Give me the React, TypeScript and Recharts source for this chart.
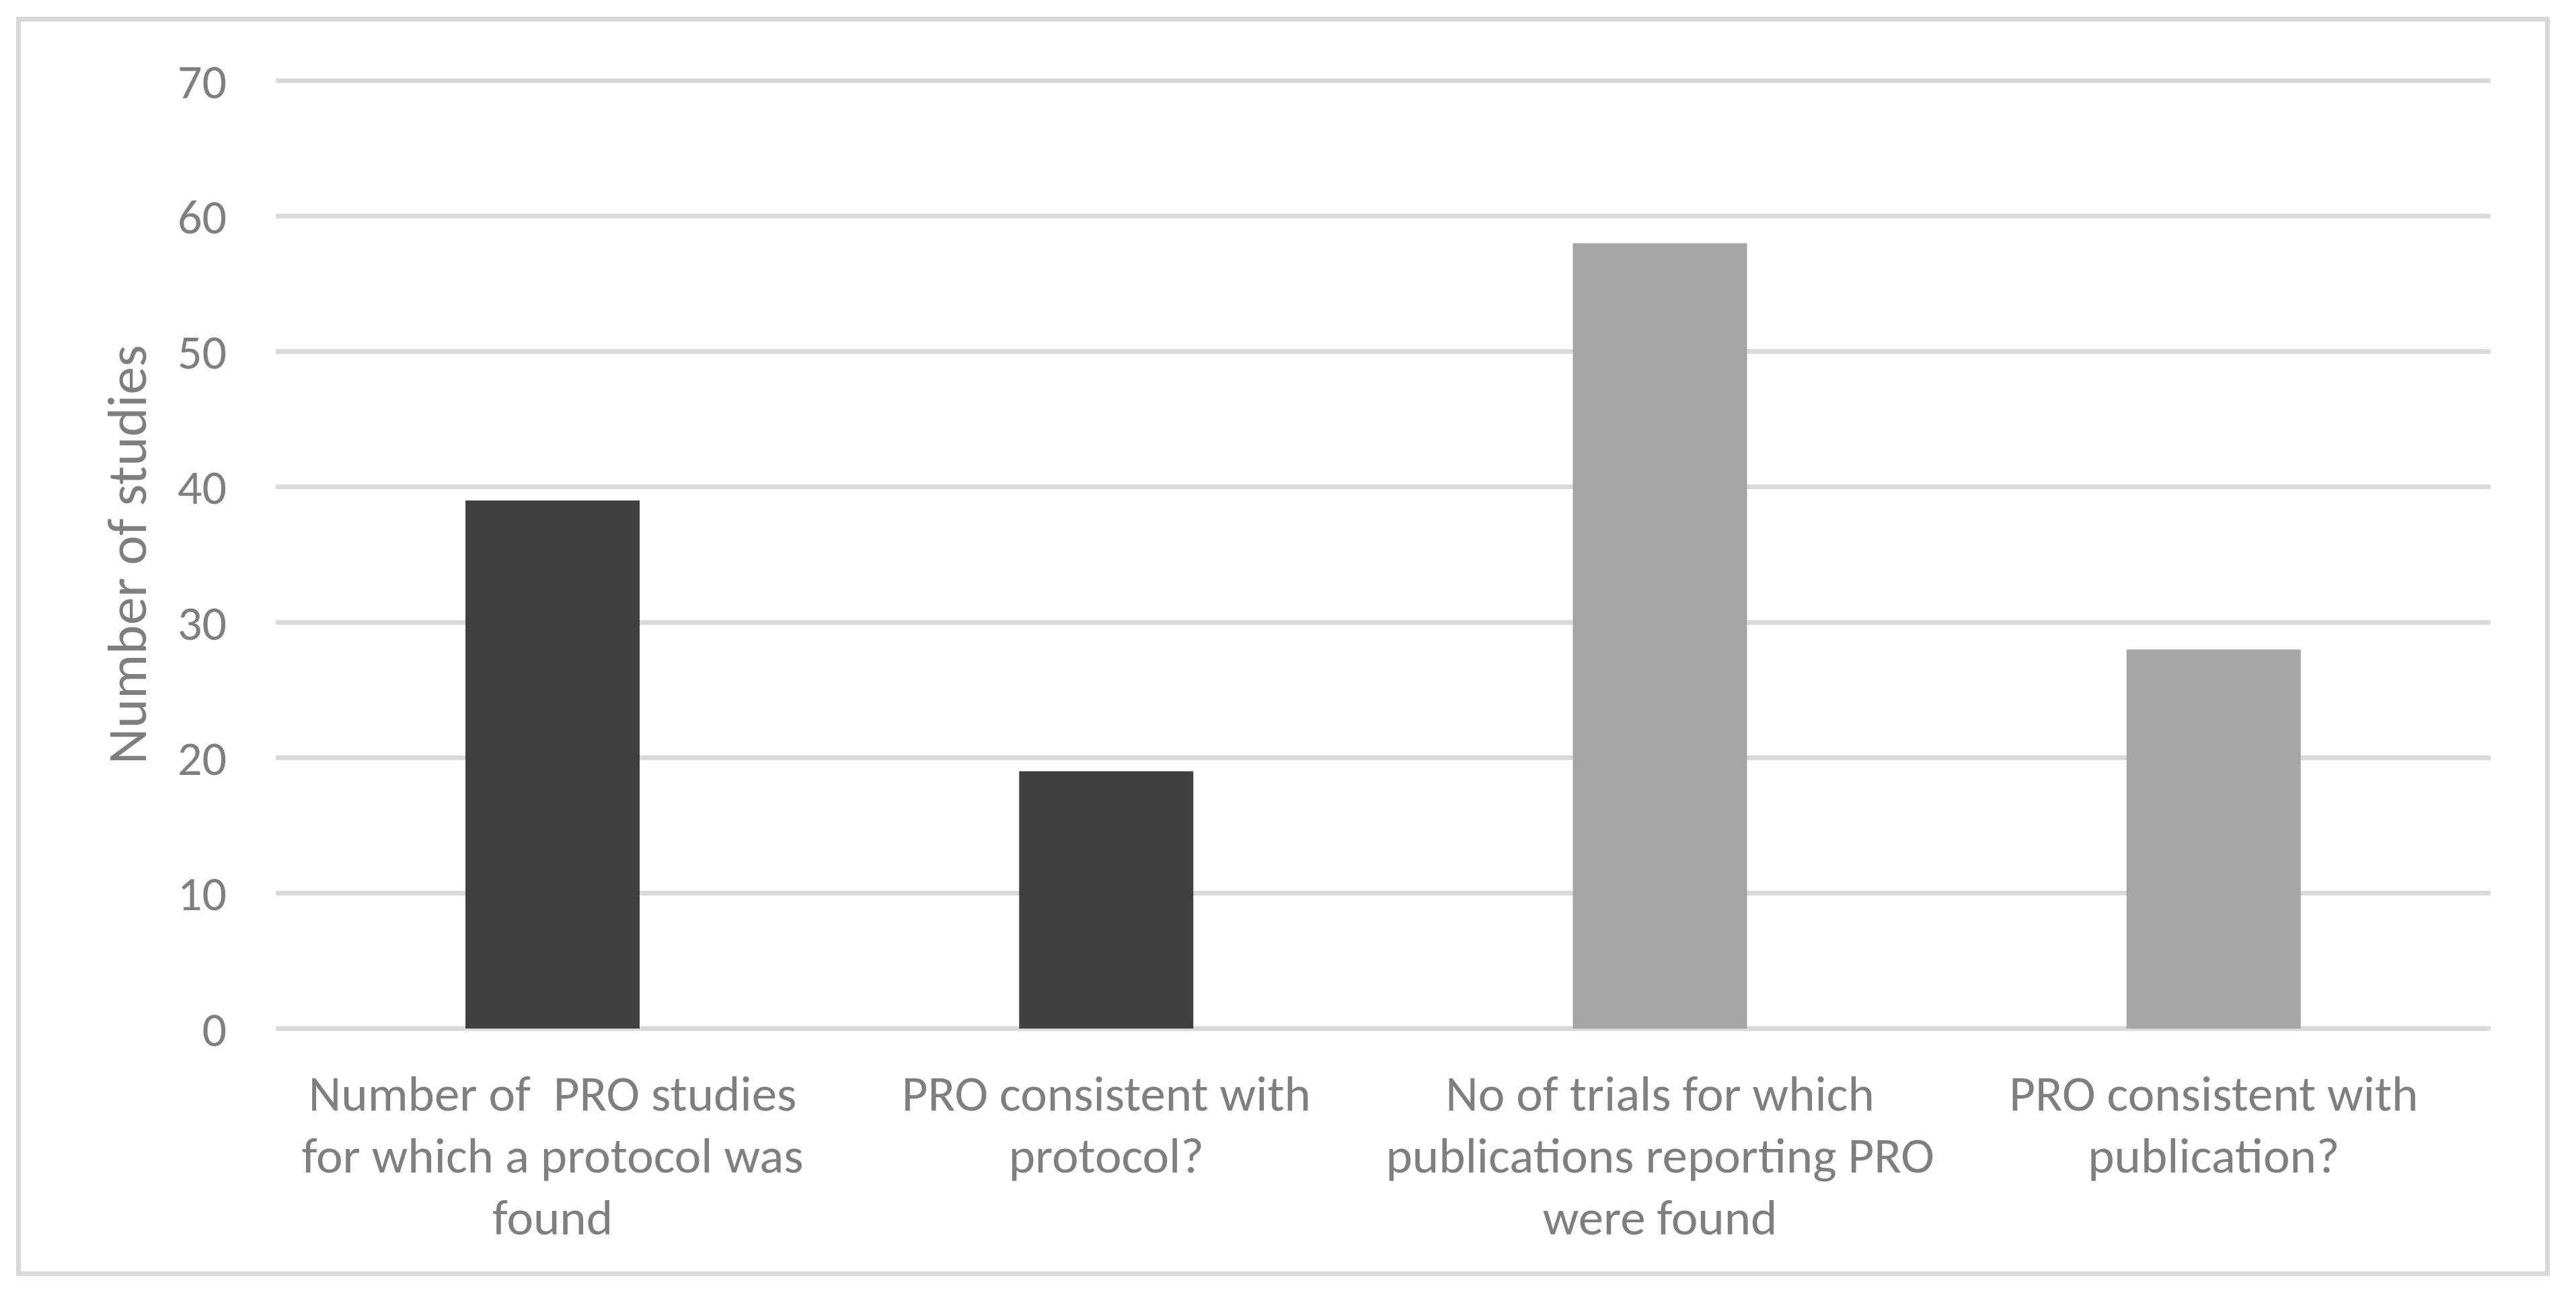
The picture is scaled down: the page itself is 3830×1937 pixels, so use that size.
import { BarChart, Bar, XAxis, YAxis, CartesianGrid, Cell } from "recharts"

const categories = [
  "Number of  PRO studies\nfor which a protocol was\nfound",
  "PRO consistent with\nprotocol?",
  "No of trials for which\npublications reporting PRO\nwere found",
  "PRO consistent with\npublication?",
]
const studyCounts = [39, 19, 58, 28]
const barColors = ["#404040", "#404040", "#A5A5A5", "#A5A5A5"]
const yTicks = [0, 10, 20, 30, 40, 50, 60, 70]

const FONT = "Carlito, 'Liberation Sans Narrow', 'Open Sans', sans-serif"
const TEXT = "#7f7f7f"

const data = categories.map((c, i) => ({ name: c, value: studyCounts[i] }))

function WrappedTick({ x, y, payload }: { x?: number; y?: number; payload?: { value: string } }) {
  const lines = String(payload?.value ?? "").split("\n")
  return (
    <text x={x} y={y} textAnchor="middle" fill={TEXT} fontSize={75} fontFamily={FONT} xmlSpace="preserve">
      {lines.map((l, i) => (
        <tspan key={i} x={x} dy={i === 0 ? 114 : 92}>{l}</tspan>
      ))}
    </text>
  )
}

export default function App() {
  return (
    <div style={{ position: "absolute", left: 0, top: 0, width: 3830, height: 1937, background: "#fff" }}>
      <div
        style={{
          position: "absolute",
          left: 24,
          top: 25,
          width: 3767,
          height: 1872,
          boxSizing: "border-box",
          border: "7px solid #D9D9D9",
        }}
      />
      <div style={{ position: "absolute", left: 0, top: 0 }}>
        <BarChart
          width={3830}
          height={1937}
          data={data}
          margin={{ top: 120, right: 127, left: 0, bottom: 108 }}
          barSize={259}
        >
          <CartesianGrid vertical={false} stroke="#D9D9D9" strokeWidth={7} />
          <XAxis
            dataKey="name"
            axisLine={false}
            tickLine={false}
            height={300}
            interval={0}
            tick={<WrappedTick />}
          />
          <YAxis
            domain={[0, 70]}
            ticks={yTicks}
            width={410}
            axisLine={false}
            tickLine={false}
            tickSize={0}
            tickMargin={73}
            tick={{ fontSize: 72, fill: TEXT, fontFamily: FONT }}
            label={{
              value: "Number of studies",
              angle: -90,
              position: "insideLeft",
              offset: 188,
              fill: TEXT,
              fontSize: 83,
              fontFamily: FONT,
              style: { textAnchor: "middle" },
            }}
          />
          <Bar dataKey="value" isAnimationActive={false}>
            {data.map((d, i) => (
              <Cell key={d.name} fill={barColors[i]} />
            ))}
          </Bar>
        </BarChart>
      </div>
    </div>
  )
}
